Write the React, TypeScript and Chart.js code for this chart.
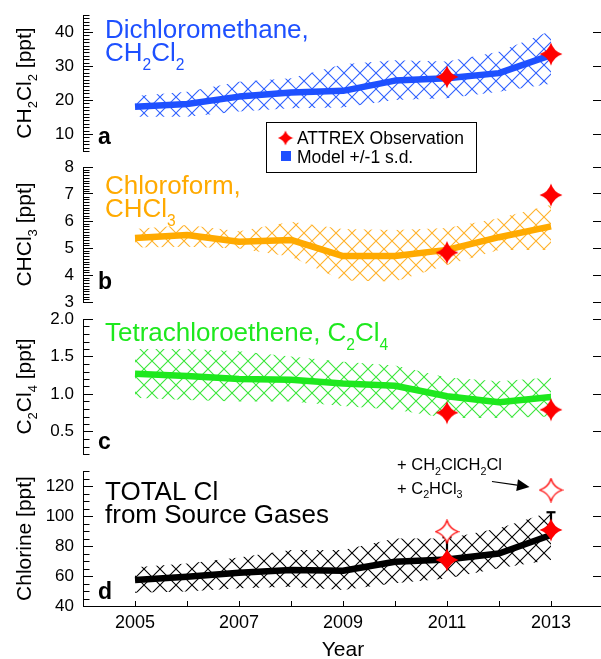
import React, { useEffect, useRef } from 'react';
import { Chart, registerables } from 'chart.js';
Chart.register(...registerables);

const FONT = "'Liberation Sans', Arial, Helvetica, sans-serif";
const W = 616;

// ---------- data ----------
const years = [2005, 2006, 2007, 2008, 2009, 2010, 2011, 2012, 2013];
const obsYears = [2011, 2013];
const xTickYears = [2004, 2005, 2006, 2007, 2008, 2009, 2010, 2011, 2012, 2013, 2014];

// a: CH2Cl2
const ch2cl2Mean = [18.0, 18.8, 21.0, 22.2, 22.7, 25.7, 26.4, 27.9, 33.2];
const ch2cl2Upper = [21.2, 22.4, 25.4, 26.4, 30.5, 31.7, 31.3, 34.2, 40.4];
const ch2cl2Lower = [15.1, 15.1, 16.6, 17.6, 17.8, 20.0, 20.5, 22.4, 24.8];
const ch2cl2Obs = [26.8, 33.5];
const ch2cl2Ticks = [10, 20, 30, 40];

// b: CHCl3
const chcl3Mean = [5.37, 5.48, 5.23, 5.3, 4.7, 4.7, 4.93, 5.4, 5.8];
const chcl3Upper = [5.7, 5.85, 5.62, 5.97, 5.7, 5.67, 5.74, 6.1, 6.6];
const chcl3Lower = [5.02, 5.05, 4.98, 4.68, 3.8, 3.76, 4.37, 4.93, 4.93];
const chcl3Obs = [4.83, 6.96];
const chcl3Ticks = [3, 4, 5, 6, 7, 8];

// c: C2Cl4
const c2cl4Mean = [1.27, 1.24, 1.2, 1.19, 1.14, 1.11, 0.97, 0.89, 0.96];
const c2cl4Upper = [1.6, 1.6, 1.57, 1.5, 1.43, 1.38, 1.22, 1.17, 1.22];
const c2cl4Lower = [0.95, 0.92, 0.9, 0.9, 0.84, 0.79, 0.68, 0.68, 0.7];
const c2cl4Obs = [0.75, 0.79];
const c2cl4Ticks = [0.5, 1.0, 1.5, 2.0];

// d: total Cl
const totalMean = [57.3, 59.5, 62.2, 64.0, 63.5, 69.5, 71.0, 75.0, 87.3];
const totalUpper = [65.8, 68.4, 72.4, 77.3, 77.3, 85.0, 85.0, 91.8, 102.9];
const totalLower = [48.9, 49.6, 51.8, 52.9, 50.7, 55.1, 58.4, 65.1, 70.7];
const totalObs = [70.7, 90.7];
const totalObsPlus = [89.5, 117.3];
const totalErrTop = [85.8, 102.5];
const totalTicks = [40, 60, 80, 100, 120];

type Seg = [string, boolean];

type Panel = {
  key: string;
  top: number;
  bottom: number;
  min: number;
  max: number;
  major: number[];
  minorStep: number;
  decimals: number;
  color: string;
  hatch: string;
  mean: number[];
  upper: number[];
  lower: number[];
  obs: number[];
  obsPlus?: number[];
  errTop?: number[];
  yTitle: Seg[];
};

const PANELS: Panel[] = [
  { key: 'a', top: 15, bottom: 151, min: 5, max: 45, major: ch2cl2Ticks, minorStep: 1, decimals: 0,
    color: '#1e50ff', hatch: '#2e60ff', mean: ch2cl2Mean, upper: ch2cl2Upper, lower: ch2cl2Lower, obs: ch2cl2Obs,
    yTitle: [['CH', false], ['2', true], ['Cl', false], ['2', true], [' [ppt]', false]] },
  { key: 'b', top: 167, bottom: 302, min: 3, max: 8, major: chcl3Ticks, minorStep: 0.1, decimals: 0,
    color: '#ffaa00', hatch: '#ffb22a', mean: chcl3Mean, upper: chcl3Upper, lower: chcl3Lower, obs: chcl3Obs,
    yTitle: [['CHCl', false], ['3', true], [' [ppt]', false]] },
  { key: 'c', top: 319, bottom: 454, min: 0.2, max: 2.0, major: c2cl4Ticks, minorStep: 0.1, decimals: 1,
    color: '#1ee81e', hatch: '#3ae63a', mean: c2cl4Mean, upper: c2cl4Upper, lower: c2cl4Lower, obs: c2cl4Obs,
    yTitle: [['C', false], ['2', true], ['Cl', false], ['4', true], [' [ppt]', false]] },
  { key: 'd', top: 471, bottom: 606, min: 40, max: 130, major: totalTicks, minorStep: 5, decimals: 0,
    color: '#000000', hatch: '#000000', mean: totalMean, upper: totalUpper, lower: totalLower, obs: totalObs,
    obsPlus: totalObsPlus, errTop: totalErrTop,
    yTitle: [['Chlorine [ppt]', false]] },
];

function canvasTopOf(p: Panel) { return p.top - 30; }
function canvasHeightOf(p: Panel) { return p.key === 'd' ? 664 - canvasTopOf(p) : (p.bottom - p.top) + 60; }

// ---------- helpers ----------
function makeStar(size: number, fill: string, stroke: string | null, lw: number) {
  const c = document.createElement('canvas');
  c.width = size; c.height = size;
  const g = c.getContext('2d')!;
  const cx = size / 2;
  const R = size / 2 - (stroke ? lw : 0.5);
  const r = R * 0.42;
  g.beginPath();
  for (let k = 0; k < 4; k++) {
    const a = -Math.PI / 2 + k * Math.PI / 2;
    const b = a + Math.PI / 2;
    const m = a + Math.PI / 4;
    if (k === 0) g.moveTo(cx + R * Math.cos(a), cx + R * Math.sin(a));
    // concave side through a point at radius r on the diagonal
    const cr = 2 * r - 0.5 * R * Math.SQRT2 * 0.5 * 2 / Math.SQRT2 * Math.SQRT1_2 * Math.SQRT2;
    g.quadraticCurveTo(cx + cr * Math.cos(m), cx + cr * Math.sin(m), cx + R * Math.cos(b), cx + R * Math.sin(b));
  }
  g.closePath();
  g.fillStyle = fill;
  g.fill();
  if (stroke) { g.strokeStyle = stroke; g.lineWidth = lw; g.lineJoin = 'miter'; g.stroke(); }
  return c;
}

function makeHatch(ctx: CanvasRenderingContext2D, color: string) {
  const s = 16;
  const c = document.createElement('canvas');
  c.width = s; c.height = s;
  const g = c.getContext('2d')!;
  g.strokeStyle = color;
  g.lineWidth = 1.1;
  g.beginPath();
  g.moveTo(-2, -2); g.lineTo(s + 2, s + 2);
  g.moveTo(s + 2, -2); g.lineTo(-2, s + 2);
  g.stroke();
  return ctx.createPattern(c, 'repeat')!;
}

function richWidth(ctx: CanvasRenderingContext2D, segs: Seg[], size: number, weight: string, subScale: number) {
  let w = 0;
  for (const [t, sub] of segs) {
    ctx.font = `${weight} ${sub ? size * subScale : size}px ${FONT}`;
    w += ctx.measureText(t).width;
  }
  return w;
}

function drawRich(ctx: CanvasRenderingContext2D, segs: Seg[], x: number, y: number, size: number, color: string,
  weight = 'normal', subScale = 0.6, subDrop = 0.36) {
  ctx.save();
  ctx.fillStyle = color;
  ctx.textAlign = 'left';
  ctx.textBaseline = 'alphabetic';
  let cx = x;
  for (const [t, sub] of segs) {
    ctx.font = `${weight} ${sub ? size * subScale : size}px ${FONT}`;
    ctx.fillText(t, cx, sub ? y + size * subDrop : y);
    cx += ctx.measureText(t).width;
  }
  ctx.restore();
}

function decorate(chart: any, p: Panel, starSmall: HTMLCanvasElement) {
  const ctx: CanvasRenderingContext2D = chart.ctx;
  const ys = chart.scales.y;
  const left = chart.chartArea.left;
  // minor ticks on the left axis
  ctx.save();
  ctx.strokeStyle = '#000';
  ctx.lineWidth = 1;
  const n = Math.round((p.max - p.min) / p.minorStep);
  ctx.beginPath();
  for (let k = 0; k <= n; k++) {
    const v = p.min + k * p.minorStep;
    if (p.major.some((m) => Math.abs(m - v) < 1e-6)) continue;
    const y = Math.round(ys.getPixelForValue(v)) + 0.5;
    ctx.moveTo(Math.round(left) + 0.5, y);
    ctx.lineTo(Math.round(left) + 6.5, y);
  }
  ctx.stroke();
  ctx.restore();

  // page coordinates from here
  ctx.save();
  ctx.translate(0, -canvasTopOf(p));
  // y-axis title (rotated)
  const mid = (p.top + p.bottom) / 2;
  const tw = richWidth(ctx, p.yTitle, 21, 'normal', 0.62);
  ctx.save();
  ctx.translate(31, mid);
  ctx.rotate(-Math.PI / 2);
  drawRich(ctx, p.yTitle, -tw / 2, 0, 21, '#000', 'normal', 0.62, 0.3);
  ctx.restore();

  // panel letter
  const letterY: Record<string, number> = { a: 143.5, b: 288.5, c: 448.5, d: 598.5 };
  drawRich(ctx, [[p.key, false]], 98, letterY[p.key], 23, '#000', 'bold');

  if (p.key === 'a') {
    drawRich(ctx, [['Dichloromethane,', false]], 105, 38, 26, p.color);
    drawRich(ctx, [['CH', false], ['2', true], ['Cl', false], ['2', true]], 105, 60.5, 26, p.color, 'normal', 0.6, 0.38);
    // legend
    ctx.fillStyle = '#fff';
    ctx.fillRect(266, 122, 211, 51);
    ctx.strokeStyle = '#000';
    ctx.lineWidth = 1;
    ctx.strokeRect(266.5, 122.5, 210, 50);
    ctx.drawImage(starSmall, 285.5 - starSmall.width / 2, 138 - starSmall.height / 2);
    ctx.fillStyle = PANELS[0].color;
    ctx.fillRect(281, 151, 10, 10);
    drawRich(ctx, [['ATTREX Observation', false]], 297, 143.5, 17.5, '#000');
    drawRich(ctx, [['Model +/-1 s.d.', false]], 297, 163, 17.5, '#000');
  } else if (p.key === 'b') {
    drawRich(ctx, [['Chloroform,', false]], 105, 193.5, 26, p.color);
    drawRich(ctx, [['CHCl', false], ['3', true]], 105, 216.5, 26, p.color, 'normal', 0.6, 0.38);
  } else if (p.key === 'c') {
    drawRich(ctx, [['Tetrachloroethene, C', false], ['2', true], ['Cl', false], ['4', true]], 105, 341, 26, p.color, 'normal', 0.6, 0.36);
  } else if (p.key === 'd') {
    drawRich(ctx, [['TOTAL Cl', false]], 105, 500, 26, '#000');
    drawRich(ctx, [['from Source Gases', false]], 105, 523, 26, '#000');
    drawRich(ctx, [['+ CH', false], ['2', true], ['ClCH', false], ['2', true], ['Cl', false]], 397, 470, 16.5, '#000', 'normal', 0.65, 0.3);
    drawRich(ctx, [['+ C', false], ['2', true], ['HCl', false], ['3', true]], 397, 493.5, 16.5, '#000', 'normal', 0.65, 0.3);
    // arrow
    const x0 = 492, y0 = 481.5, x1 = 529.5, y1 = 487;
    const ang = Math.atan2(y1 - y0, x1 - x0);
    const hl = 12.5, hw = 6;
    const bx = x1 - hl * Math.cos(ang), by = y1 - hl * Math.sin(ang);
    ctx.strokeStyle = '#000';
    ctx.lineWidth = 1.2;
    ctx.beginPath(); ctx.moveTo(x0, y0); ctx.lineTo(bx, by); ctx.stroke();
    ctx.fillStyle = '#000';
    ctx.beginPath();
    ctx.moveTo(x1, y1);
    ctx.lineTo(bx - hw * Math.sin(ang), by + hw * Math.cos(ang));
    ctx.lineTo(bx + hw * Math.sin(ang), by - hw * Math.cos(ang));
    ctx.closePath();
    ctx.fill();
  }
  ctx.restore();
}

function makeChart(canvas: HTMLCanvasElement, p: Panel, stars: { filled: HTMLCanvasElement; open: HTMLCanvasElement; small: HTMLCanvasElement }) {
  const ctx = canvas.getContext('2d')!;
  const isBottom = p.key === 'd';
  const hatch = makeHatch(ctx, p.hatch);
  const xy = (xs: number[], vs: number[]) => xs.map((x, i) => ({ x, y: vs[i] }));

  const datasets: any[] = [];
  datasets.push({ label: 'ATTREX Observation', data: xy(obsYears, p.obs), showLine: false,
    pointStyle: stars.filled, pointRadius: 12, pointHoverRadius: 12 });
  if (p.obsPlus && p.errTop) {
    datasets.push({ label: 'ATTREX + CH2ClCH2Cl + C2HCl3', data: xy(obsYears, p.obsPlus), showLine: false,
      pointStyle: stars.open, pointRadius: 12, pointHoverRadius: 12 });
    datasets.push({ label: 'error cap', data: xy(obsYears, p.errTop), showLine: false, pointStyle: 'line',
      pointRadius: 4.5, pointBorderWidth: 2.2, pointBorderColor: '#000', pointBackgroundColor: '#000' });
    const seg: any[] = [];
    obsYears.forEach((x, i) => { seg.push({ x, y: p.obs[i] }, { x, y: p.errTop![i] }, { x, y: null }); });
    datasets.push({ label: 'error bar', data: seg, borderColor: '#000', borderWidth: 2.2, pointRadius: 0,
      spanGaps: false, fill: false });
  }
  datasets.push({ label: 'Model', data: xy(years, p.mean), borderColor: p.color, borderWidth: 6.5, pointRadius: 0,
    fill: false, tension: 0, borderCapStyle: 'butt', borderJoinStyle: 'round' });
  datasets.push({ label: '+1 s.d.', data: xy(years, p.upper), borderWidth: 0, borderColor: 'rgba(0,0,0,0)',
    pointRadius: 0, fill: '+1', backgroundColor: hatch });
  datasets.push({ label: '-1 s.d.', data: xy(years, p.lower), borderWidth: 0, borderColor: 'rgba(0,0,0,0)',
    pointRadius: 0, fill: false });

  const yAxis = (pos: 'left' | 'right') => ({
    type: 'linear', position: pos, min: p.min, max: p.max,
    afterBuildTicks: (s: any) => { s.ticks = p.major.map((v) => ({ value: v })); },
    grid: { display: true, drawOnChartArea: false, drawTicks: true, tickLength: -10, color: '#000', tickColor: '#000', tickWidth: 1 },
    border: { display: pos === 'left', color: '#000', width: 1 },
    ticks: { display: pos === 'left', padding: 19, font: { family: FONT, size: 17 }, color: '#000',
      callback: (v: any) => Number(v).toFixed(p.decimals) },
    afterFit: (s: any) => { s.width = pos === 'left' ? 83 : 0; },
  });

  const xAxis: any = {
    type: 'linear', min: 2004, max: 2014, display: isBottom,
    afterBuildTicks: (s: any) => { s.ticks = xTickYears.map((v) => ({ value: v })); },
    grid: { display: true, drawOnChartArea: false, drawTicks: true, tickLength: -5, color: '#000', tickColor: '#000' },
    border: { display: true, color: '#000', width: 1 },
    ticks: { autoSkip: false, maxRotation: 0, padding: 11, font: { family: FONT, size: 18 }, color: '#000',
      callback: (v: any) => (Number(v) % 2 === 1 ? String(v) : '') },
    title: { display: true, text: 'Year', font: { family: FONT, size: 21 }, color: '#000', padding: { top: 0, bottom: 1 } },
  };
  if (isBottom) xAxis.afterFit = (s: any) => { s.height = 58; };

  const chart = new Chart(ctx, {
    type: 'line',
    data: { datasets },
    options: {
      responsive: false,
      animation: false,
      devicePixelRatio: 1,
      events: [],
      layout: { padding: { left: 0, right: W - 607.5, top: 30, bottom: isBottom ? 0 : 30 } },
      plugins: { legend: { display: false }, tooltip: { enabled: false } },
      scales: {
        x: xAxis,
        y: yAxis('left'),
        yR: yAxis('right'),
      } as any,
    },
    plugins: [{ id: 'decor-' + p.key, afterDraw: (c: any) => decorate(c, p, stars.small) }],
  } as any);
  return chart;
}

export default function App() {
  const refs = useRef<(HTMLCanvasElement | null)[]>([]);
  useEffect(() => {
    const stars = {
      filled: makeStar(24, '#ff0000', null, 0),
      open: makeStar(25, '#ffffff', '#ff0000', 1.3),
      small: makeStar(16, '#ff0000', null, 0),
    };
    const charts = PANELS.map((p, i) => makeChart(refs.current[i]!, p, stars));
    return () => charts.forEach((c) => c.destroy());
  }, []);
  return (
    <div style={{ position: 'absolute', left: 0, top: 0, width: 601, height: 659, overflow: 'hidden', background: '#fff' }}>
      {PANELS.map((p, i) => (
        <canvas key={p.key} ref={(el) => { refs.current[i] = el; }} width={W} height={canvasHeightOf(p)}
          style={{ position: 'absolute', left: 0, top: canvasTopOf(p), width: W, height: canvasHeightOf(p) }} />
      ))}
    </div>
  );
}
